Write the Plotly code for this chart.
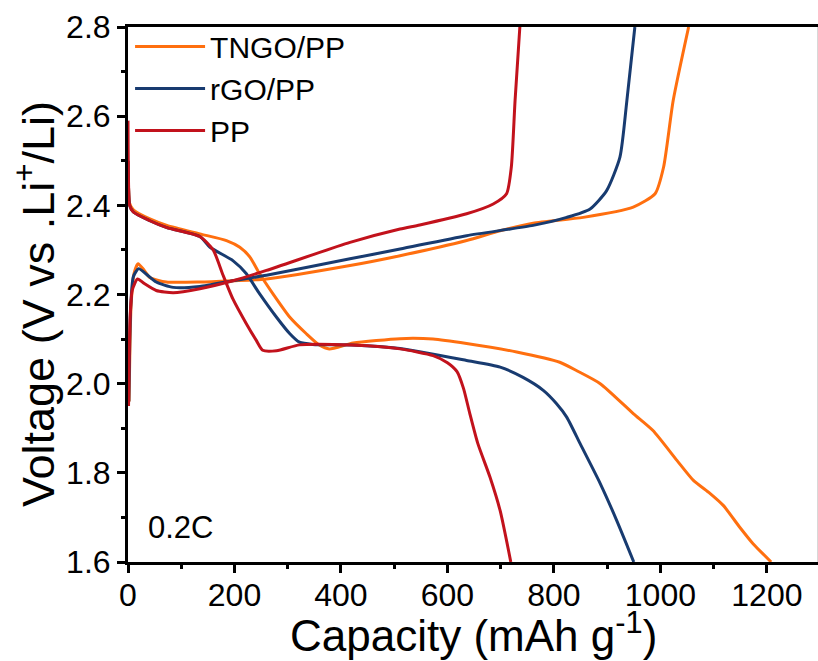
import plotly.graph_objects as go

# ---------------- data ----------------
# TNGO/PP
tngo_dis_c = [0, 1, 3, 10, 40, 73, 135, 185, 210, 229, 247, 272, 304, 335, 360, 378, 423, 511, 573, 636, 730, 811, 843, 887, 949, 986, 1031, 1062, 1093, 1118, 1149, 1174, 1208]
tngo_dis_v = [2.50, 2.44, 2.405, 2.39, 2.37, 2.355, 2.336, 2.321, 2.306, 2.284, 2.247, 2.202, 2.149, 2.112, 2.086, 2.078, 2.091, 2.101, 2.100, 2.090, 2.071, 2.048, 2.029, 2.000, 1.933, 1.895, 1.828, 1.783, 1.754, 1.727, 1.678, 1.641, 1.600]
tngo_chg_c = [2, 6, 12, 19, 30, 41, 72, 135, 197, 260, 417, 511, 636, 699, 761, 855, 949, 990, 1006, 1024, 1053]
tngo_chg_v = [1.96, 2.18, 2.25, 2.269, 2.255, 2.238, 2.228, 2.228, 2.231, 2.235, 2.265, 2.287, 2.321, 2.343, 2.360, 2.373, 2.396, 2.426, 2.486, 2.635, 2.800]

# rGO/PP
rgo_dis_c = [0, 1, 3, 10, 40, 73, 135, 154, 197, 222, 247, 279, 304, 322, 347, 420, 511, 636, 699, 742, 780, 805, 824, 849, 887, 918, 950]
rgo_dis_v = [2.50, 2.44, 2.40, 2.385, 2.366, 2.35, 2.33, 2.306, 2.276, 2.247, 2.202, 2.149, 2.112, 2.093, 2.088, 2.087, 2.079, 2.052, 2.037, 2.014, 1.985, 1.955, 1.925, 1.866, 1.776, 1.693, 1.600]
rgo_chg_c = [1.5, 5, 10, 20, 35, 53, 85, 135, 197, 260, 417, 511, 636, 761, 824, 868, 899, 924, 937, 952]
rgo_chg_v = [1.96, 2.17, 2.24, 2.258, 2.245, 2.228, 2.216, 2.218, 2.231, 2.243, 2.280, 2.302, 2.332, 2.355, 2.373, 2.392, 2.433, 2.508, 2.635, 2.800]

# PP
pp_dis_c = [0, 1, 3, 10, 40, 73, 135, 160, 178, 197, 222, 241, 253, 279, 322, 385, 450, 511, 573, 600, 618, 630, 642, 657, 680, 699, 719]
pp_dis_v = [2.59, 2.45, 2.40, 2.385, 2.366, 2.35, 2.33, 2.30, 2.245, 2.19, 2.135, 2.097, 2.075, 2.074, 2.087, 2.088, 2.085, 2.078, 2.063, 2.047, 2.027, 1.990, 1.933, 1.866, 1.790, 1.715, 1.600]
pp_chg_c = [1, 4, 8, 18, 30, 53, 85, 135, 197, 260, 417, 511, 548, 636, 686, 711, 720, 727, 736]
pp_chg_v = [1.95, 2.15, 2.21, 2.235, 2.225, 2.209, 2.204, 2.213, 2.231, 2.254, 2.317, 2.347, 2.356, 2.381, 2.403, 2.426, 2.486, 2.635, 2.800]

names = ["TNGO/PP", "rGO/PP", "PP"]
colors = ["#FF6F0F", "#183B70", "#C2121C"]
series = [
    (tngo_dis_c, tngo_dis_v, tngo_chg_c, tngo_chg_v),
    (rgo_dis_c, rgo_dis_v, rgo_chg_c, rgo_chg_v),
    (pp_dis_c, pp_dis_v, pp_chg_c, pp_chg_v),
]

x_ticks = [0, 200, 400, 600, 800, 1000, 1200]
y_ticks = [1.6, 1.8, 2.0, 2.2, 2.4, 2.6, 2.8]

FONT = "Liberation Sans, Arial, sans-serif"

# plot area in pixels (for paper-coordinate text placement)
L, R, T, B, W, H = 128, 0, 27, 99, 818, 661
PW, PH = W - L - R, H - T - B

fig = go.Figure()
for name, col, (dc, dv, cc, cv) in zip(names, colors, series):
    x = list(dc) + [None] + list(cc)
    y = list(dv) + [None] + list(cv)
    fig.add_trace(go.Scatter(
        x=x, y=y, mode="lines", name=name,
        line=dict(color=col, width=3, shape="spline", smoothing=0.6),
        connectgaps=False,
    ))

axis_common = dict(
    showgrid=False, zeroline=False,
    showline=True, linecolor="black", linewidth=3,
    ticks="outside", ticklen=8, tickwidth=3, tickcolor="black",
    tickfont=dict(family=FONT, size=32, color="black"),
)

fig.update_xaxes(
    range=[0, 1296], tickvals=x_ticks, ticktext=[str(v) for v in x_ticks],
    mirror=True, ticklabelstandoff=-5,
    minor=dict(dtick=100, tick0=0, ticks="outside", ticklen=4, tickwidth=3, tickcolor="black"),
    **axis_common,
)
fig.update_yaxes(
    range=[1.6, 2.8], tickvals=y_ticks, ticktext=[f"{v:.1f}" for v in y_ticks],
    minor=dict(dtick=0.1, tick0=1.6, ticks="outside", ticklen=4, tickwidth=3, tickcolor="black"),
    **axis_common,
)

fig.add_shape(type="line", xref="paper", yref="paper", x0=1, x1=1, y0=0, y1=1,
              line=dict(color="#B0B0B0", width=1))

# axis titles
fig.add_annotation(
    text="Capacity (mAh g<sup>-1</sup>)", xref="paper", yref="paper",
    x=(473 - L) / PW, y=1 - (632 - T) / PH,
    showarrow=False, xanchor="center", yanchor="middle",
    font=dict(family=FONT, size=44, color="black"),
)
fig.add_annotation(
    text="Voltage (V vs .Li<sup>+</sup>/Li)", xref="paper", yref="paper",
    x=(35 - L) / PW, y=1 - (304 - T) / PH, textangle=-90,
    showarrow=False, xanchor="center", yanchor="middle",
    font=dict(family=FONT, size=45, color="black"),
)

fig.add_annotation(
    text="0.2C", xref="paper", yref="paper",
    x=(180 - L) / PW, y=1 - (527 - T) / PH,
    showarrow=False, xanchor="center", yanchor="middle",
    font=dict(family=FONT, size=31, color="black"),
)

fig.update_layout(
    width=W, height=H,
    margin=dict(l=L, r=R, t=T, b=B),
    paper_bgcolor="white", plot_bgcolor="white",
    showlegend=True,
    legend=dict(
        x=0.003, y=1.012, xanchor="left", yanchor="top",
        bgcolor="rgba(0,0,0,0)", borderwidth=0,
        font=dict(family=FONT, size=30, color="black"),
        itemwidth=70, tracegroupgap=0,
    ),
)

fig.write_html("out.html")
